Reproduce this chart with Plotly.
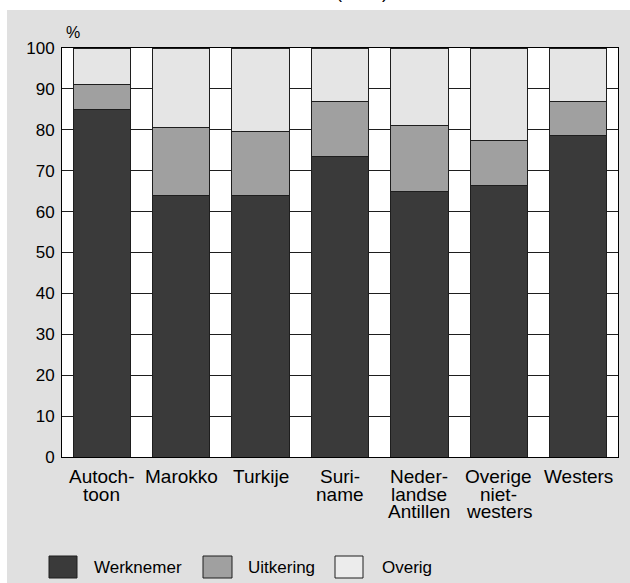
import plotly.graph_objects as go

categories = ["Autochtoon", "Marokko", "Turkije", "Suriname",
              "Nederlandse Antillen", "Overige niet-westers", "Westers"]
tick_labels = ["Autoch-\ntoon", "Marokko", "Turkije", "Suri-\nname",
               "Neder-\nlandse\nAntillen", "Overige\nniet-\nwesters", "Westers"]
werknemer = [85, 64, 64, 73.5, 65, 66.5, 78.5]
uitkering = [6, 16.5, 15.5, 13.5, 16, 11, 8.5]
overig = [9, 19.5, 20.5, 13, 19, 22.5, 13]
series_names = ["Werknemer", "Uitkering", "Overig"]
series_values = [werknemer, uitkering, overig]
colors = ["#3a3a3a", "#a0a0a0", "#e5e5e5"]
y_ticks = list(range(0, 101, 10))
title_text = "(2003)"
unit_label = "%"

W, H = 630, 583
ML, MR, MT, MB = 62, 12, 48, 126
PW, PH = W - ML - MR, H - MT - MB
FONT = "Liberation Sans, Arial, Helvetica, sans-serif"


def px_x(px):
    return (px - ML) / PW


def px_y(py):
    return (MT + PH - py) / PH


fig = go.Figure()
for name, vals, col in zip(series_names, series_values, colors):
    fig.add_trace(go.Bar(
        x=categories, y=vals, name=name,
        marker=dict(color=col, line=dict(color="#1e1e1e", width=1)),
        showlegend=False,
    ))

shapes = []
# white strips at top and left of the page
shapes.append(dict(type="rect", xref="paper", yref="paper", layer="below",
                   x0=px_x(-2), x1=px_x(W + 2), y0=px_y(10), y1=px_y(-2),
                   fillcolor="white", line=dict(width=0)))
shapes.append(dict(type="rect", xref="paper", yref="paper", layer="below",
                   x0=px_x(-2), x1=px_x(7), y0=px_y(H + 2), y1=px_y(-2),
                   fillcolor="white", line=dict(width=0)))

annotations = []
# x category labels (one annotation per line for tight spacing)
for cat, lab in zip(categories, tick_labels):
    for i, line in enumerate(lab.split("\n")):
        annotations.append(dict(
            x=cat, xref="x", y=0, yref="paper", yanchor="top", xanchor="center",
            yshift=-7 - 17.5 * i, text=line, showarrow=False,
            font=dict(size=19, color="black", family=FONT)))

annotations.append(dict(x=px_x(72.5), y=px_y(32), xref="paper", yref="paper",
                        xanchor="center", yanchor="middle",
                        text=unit_label, showarrow=False,
                        font=dict(size=16, color="black", family=FONT)))
annotations.append(dict(x=px_x(362), y=px_y(3.8), xref="paper", yref="paper",
                        xanchor="center", yanchor="bottom", text=title_text,
                        showarrow=False,
                        font=dict(size=18, color="black", family=FONT)))

# custom legend
leg_sq = [(49, 77), (203, 232), (335, 363)]
leg_tx = [92, 246, 380]
for (a, b), tx, name, col in zip(leg_sq, leg_tx, series_names, colors):
    shapes.append(dict(type="rect", xref="paper", yref="paper",
                       x0=px_x(a), x1=px_x(b), y0=px_y(578), y1=px_y(556),
                       fillcolor=col if name != "Overig" else "#ececec",
                       line=dict(color="#1e1e1e", width=1)))
    annotations.append(dict(x=px_x(tx), y=px_y(567), xref="paper", yref="paper",
                            xanchor="left", yanchor="middle", text=name,
                            showarrow=False,
                            font=dict(size=17, color="black", family=FONT)))

fig.update_layout(
    width=W, height=H,
    margin=dict(l=ML, r=MR, t=MT, b=MB, pad=0),
    paper_bgcolor="#e0e0e0", plot_bgcolor="white",
    barmode="stack", bargap=0.28,
    font=dict(family=FONT, size=17, color="black"),
    shapes=shapes, annotations=annotations,
    showlegend=False,
)
fig.update_xaxes(showticklabels=False, showgrid=False, showline=True, mirror=True,
                 linecolor="black", linewidth=1, ticks="", fixedrange=True)
fig.update_yaxes(range=[0, 100], tickvals=y_ticks, showgrid=True, gridcolor="#1e1e1e",
                 gridwidth=1, showline=True, mirror=True, linecolor="black", linewidth=1,
                 ticks="", ticklabelstandoff=3, zeroline=False,
                 tickfont=dict(size=17, color="black", family=FONT), fixedrange=True)

fig.write_html(
    "out.html",
    config={"displayModeBar": False},
    post_script="document.body.style.margin='0';document.body.style.overflow='hidden';",
)
